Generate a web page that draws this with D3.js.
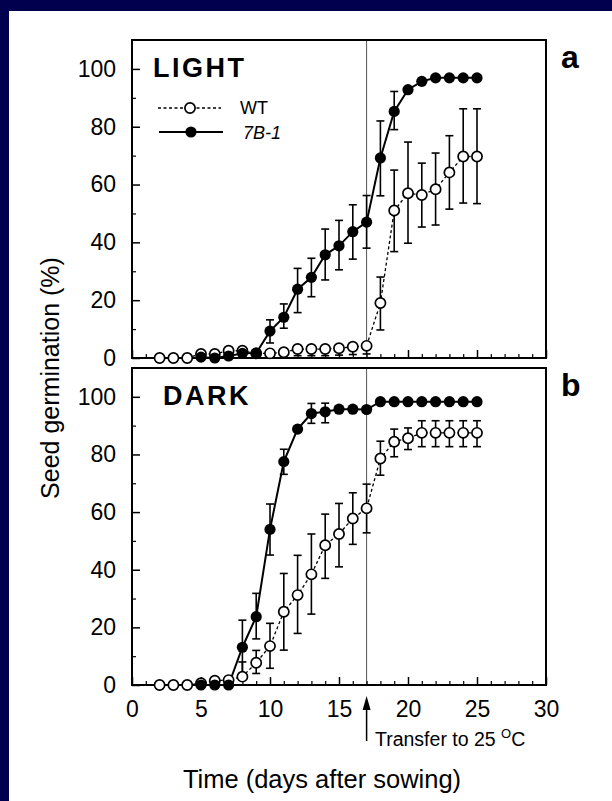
<!DOCTYPE html>
<html>
<head>
<meta charset="utf-8">
<script src="https://cdn.jsdelivr.net/npm/d3@7"></script>
<style>
  html, body { margin: 0; padding: 0; background: #00004e; }
  svg { display: block; }
  text { font-family: "Liberation Sans", Arial, Helvetica, sans-serif; fill: #000; }
</style>
</head>
<body>
<svg id="chart" width="612" height="801"></svg>
<script>
// days on the x axis
const wtDays = [2, 3, 4, 5, 6, 7, 8, 9, 10, 11, 12, 13, 14, 15, 16, 17, 18, 19, 20, 21, 22, 23, 24, 25];
const mutDays = [5, 6, 7, 8, 9, 10, 11, 12, 13, 14, 15, 16, 17, 18, 19, 20, 21, 22, 23, 24, 25];

// LIGHT panel (a)
const lightWT = [0, 0, 0, 1.4, 1.4, 2.5, 2.5, 1.6, 1.6, 2, 3.1, 3.1, 3.1, 3.4, 3.9, 4.2, 19, 51, 57, 56.4, 58.4, 64.2, 69.7, 69.7];
const lightWTHi = [null, null, null, null, null, null, null, null, null, null, null, null, null, null, null, null, 28, 65, 74.7, 67.4, 70.9, 76.9, 86.2, 86.2];
const lightWTLo = [null, null, null, null, null, null, null, null, null, null, 0.8, 0.8, 0.8, 1, 1.2, 1.4, 9.7, 36.8, 39.7, 45.3, 46, 51.5, 53.6, 53.4];
const light7B1 = [0.3, 0, 0.7, 1.6, 1.7, 9.3, 14.1, 23.8, 27.9, 35.7, 38.8, 43.7, 47, 69.2, 85.3, 92.8, 95.7, 96.9, 96.9, 96.9, 96.9];
const light7B1Hi = [null, null, null, null, null, 13.2, 18.7, 31, 34.5, 44.6, 47.6, 53, 56.2, 82, 92.2, null, null, null, null, null, null];
const light7B1Lo = [null, null, null, null, null, 5.2, 10.3, 15.7, 21.2, 27, 30.5, 34.2, 38, 56.1, 79, null, null, null, null, null, null];

// DARK panel (b)
const darkWT = [0, 0, 0, 0.6, 1.5, 1.7, 2.9, 7.7, 13.5, 25.4, 31.2, 38.4, 48.5, 52.4, 57.8, 61.3, 78.6, 84.4, 85.6, 87.5, 87.5, 87.5, 87.5, 87.5];
const darkWTHi = [null, null, null, null, null, null, 8, 12, 21.4, 38.7, 45, 52.4, 59.3, 63, 66.7, 69.7, 84.6, 88.8, 89.2, 91.7, 91.7, 91.7, 91.7, 91.7];
const darkWTLo = [null, null, null, null, null, null, null, 4, 5.8, 12.1, 17.9, 24.6, 37, 41, 48.8, 52.8, 72.8, 79.2, 81.7, 82.7, 82.7, 82.7, 82.7, 82.7];
const dark7B1 = [0, 0, 0, 13.1, 23.7, 54, 77.5, 88.8, 94.2, 94.8, 95.7, 95.7, 95.6, 98.3, 98.3, 98.3, 98.3, 98.3, 98.3, 98.3, 98.3];
const dark7B1Hi = [null, null, null, 22.5, 31.8, 62.8, 81.8, null, 97.7, 97.8, null, null, null, null, null, null, null, null, null, null, null];
const dark7B1Lo = [null, null, null, 4, 16, 45.1, 73.1, null, 90.8, 91, null, null, null, null, null, null, null, null, null, null, null];

const xTicks = [0, 5, 10, 15, 20, 25, 30];
const yTicks = [0, 20, 40, 60, 80, 100];
const transferDay = 17;

const panels = [
  { top: 40, bottom: 358, title: "LIGHT", letter: "a", legend: true, labels: false,
    wt: lightWT, wtHi: lightWTHi, wtLo: lightWTLo, mut: light7B1, mutHi: light7B1Hi, mutLo: light7B1Lo },
  { top: 368, bottom: 685, title: "DARK", letter: "b", legend: false, labels: true,
    wt: darkWT, wtHi: darkWTHi, wtLo: darkWTLo, mut: dark7B1, mutHi: dark7B1Hi, mutLo: dark7B1Lo }
];

const svg = d3.select("#chart");

// white page inside the blue slide
svg.append("rect")
  .attr("x", 9).attr("y", 11)
  .attr("width", 603).attr("height", 790)
  .attr("fill", "#fff");

const x = d3.scaleLinear().domain([0, 30]).range([132, 546]);

function toPoints(days, vals, hi, lo) {
  return days.map((d, i) => ({ day: d, v: vals[i], hi: hi[i], lo: lo[i] }));
}

panels.forEach((p) => {
  const y = d3.scaleLinear().domain([0, 110]).range([p.bottom, p.top]);
  const g = svg.append("g");

  // vertical marker at the transfer day
  g.append("line")
    .attr("x1", x(transferDay)).attr("x2", x(transferDay))
    .attr("y1", p.top).attr("y2", p.bottom)
    .attr("stroke", "#555").attr("stroke-width", 1);

  // y axis, ticks point inward
  g.append("g")
    .attr("transform", `translate(${x(0)},0)`)
    .call(d3.axisLeft(y).tickValues(yTicks).tickSizeInner(-8).tickSizeOuter(0).tickPadding(16))
    .call((a) => a.select(".domain").remove())
    .call((a) => a.selectAll("line").attr("stroke", "#000").attr("stroke-width", 1.5))
    .call((a) => a.selectAll("text").attr("font-size", 23).attr("font-family", null));
  g.append("g")
    .attr("transform", `translate(${x(0)},0)`)
    .call(d3.axisLeft(y).tickValues([10, 30, 50, 70, 90]).tickSizeInner(-4).tickSizeOuter(0).tickFormat(""))
    .call((a) => a.select(".domain").remove())
    .call((a) => a.selectAll("line").attr("stroke", "#000").attr("stroke-width", 1.2));

  // x axis ticks (labels only on bottom panel)
  g.append("g")
    .attr("transform", `translate(0,${p.bottom})`)
    .call(d3.axisBottom(x).tickValues(xTicks).tickSizeInner(-8).tickSizeOuter(0).tickPadding(16)
      .tickFormat(p.labels ? d3.format("d") : ""))
    .call((a) => a.select(".domain").remove())
    .call((a) => a.selectAll("line").attr("stroke", "#000").attr("stroke-width", 1.5))
    .call((a) => a.selectAll("text").attr("font-size", 23).attr("font-family", null));
  g.append("g")
    .attr("transform", `translate(0,${p.bottom})`)
    .call(d3.axisBottom(x).tickValues(d3.range(1, 30).filter((d) => d % 5 !== 0))
      .tickSizeInner(-4).tickSizeOuter(0).tickFormat(""))
    .call((a) => a.select(".domain").remove())
    .call((a) => a.selectAll("line").attr("stroke", "#000").attr("stroke-width", 1.2));

  // frame
  g.append("rect")
    .attr("x", x(0)).attr("y", p.top)
    .attr("width", x(30) - x(0)).attr("height", p.bottom - p.top)
    .attr("fill", "none").attr("stroke", "#000").attr("stroke-width", 2);

  const wt = toPoints(wtDays, p.wt, p.wtHi, p.wtLo);
  const mut = toPoints(mutDays, p.mut, p.mutHi, p.mutLo);

  // error bars
  const bars = [];
  wt.concat(mut).forEach((d) => {
    if (d.hi != null) bars.push({ day: d.day, a: d.v, b: d.hi });
    if (d.lo != null) bars.push({ day: d.day, a: d.v, b: d.lo });
  });
  const eb = g.append("g").attr("stroke", "#000").attr("stroke-width", 1.6);
  eb.selectAll(".stem").data(bars).join("line")
    .attr("x1", (d) => x(d.day)).attr("x2", (d) => x(d.day))
    .attr("y1", (d) => y(d.a)).attr("y2", (d) => y(d.b));
  eb.selectAll(".cap").data(bars).join("line")
    .attr("x1", (d) => x(d.day) - 4).attr("x2", (d) => x(d.day) + 4)
    .attr("y1", (d) => y(d.b)).attr("y2", (d) => y(d.b));

  const line = d3.line().x((d) => x(d.day)).y((d) => y(d.v));

  g.append("path").datum(wt)
    .attr("d", line).attr("fill", "none")
    .attr("stroke", "#000").attr("stroke-width", 1.3).attr("stroke-dasharray", "3,2.5");
  g.append("path").datum(mut)
    .attr("d", line).attr("fill", "none")
    .attr("stroke", "#000").attr("stroke-width", 2);

  g.selectAll(".wt").data(wt).join("circle")
    .attr("cx", (d) => x(d.day)).attr("cy", (d) => y(d.v)).attr("r", 5.1)
    .attr("fill", "#fff").attr("stroke", "#000").attr("stroke-width", 1.7);
  g.selectAll(".mut").data(mut).join("circle")
    .attr("cx", (d) => x(d.day)).attr("cy", (d) => y(d.v)).attr("r", 5.6)
    .attr("fill", "#000");

  // panel title and letter
  g.append("text")
    .attr("x", p.legend ? 153 : 163).attr("y", p.top + 37)
    .attr("font-size", 27).attr("font-weight", "bold").attr("letter-spacing", 2.5)
    .text(p.title);
  g.append("text")
    .attr("x", 561).attr("y", p.top + 28)
    .attr("font-size", 32).attr("font-weight", "bold")
    .text(p.letter);

  if (p.legend) {
    const lg = g.append("g");
    lg.append("line").attr("x1", 158).attr("x2", 221).attr("y1", 108).attr("y2", 108)
      .attr("stroke", "#000").attr("stroke-width", 1.3).attr("stroke-dasharray", "3,2.5");
    lg.append("circle").attr("cx", 190).attr("cy", 108).attr("r", 5.1)
      .attr("fill", "#fff").attr("stroke", "#000").attr("stroke-width", 1.7);
    lg.append("text").attr("x", 240).attr("y", 114).attr("font-size", 18).text("WT");
    lg.append("line").attr("x1", 159).attr("x2", 223).attr("y1", 132).attr("y2", 132)
      .attr("stroke", "#000").attr("stroke-width", 2);
    lg.append("circle").attr("cx", 191).attr("cy", 132).attr("r", 5.6).attr("fill", "#000");
    lg.append("text").attr("x", 243).attr("y", 139).attr("font-size", 18)
      .attr("font-style", "italic").text("7B-1");
  }
});

// axis titles
svg.append("text")
  .attr("transform", "translate(59,378) rotate(-90)")
  .attr("text-anchor", "middle").attr("font-size", 25)
  .text("Seed germination (%)");
svg.append("text")
  .attr("x", 322).attr("y", 788)
  .attr("text-anchor", "middle").attr("font-size", 25.5)
  .text("Time (days after sowing)");

// transfer arrow and note
const ax = x(transferDay);
svg.append("line")
  .attr("x1", ax).attr("x2", ax).attr("y1", 741).attr("y2", 706)
  .attr("stroke", "#000").attr("stroke-width", 1.5);
svg.append("path")
  .attr("d", `M${ax},696 L${ax - 4},710 L${ax + 4},710 Z`)
  .attr("fill", "#000");
const note = svg.append("text").attr("x", 375).attr("y", 746).attr("font-size", 19.5);
note.append("tspan").text("Transfer to 25 ");
note.append("tspan").attr("font-size", 13).attr("dy", -8).text("O");
note.append("tspan").attr("dy", 8).text("C");
</script>
</body>
</html>
